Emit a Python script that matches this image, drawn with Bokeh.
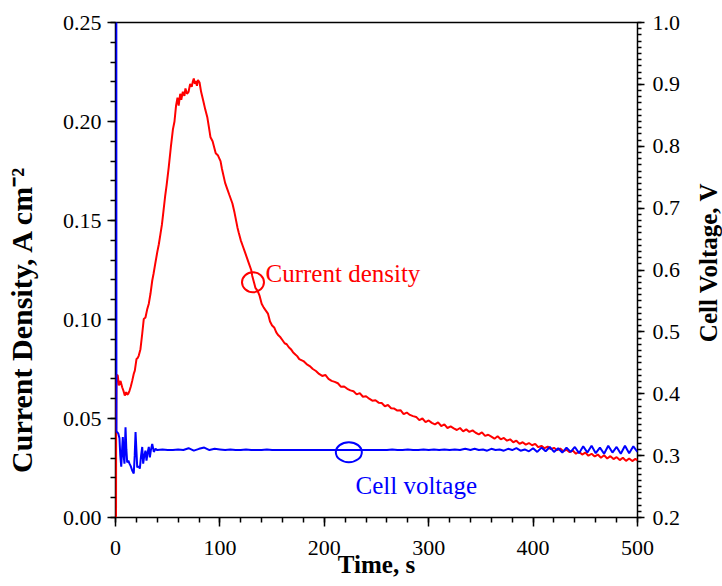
import math
import numpy as np
from bokeh.plotting import figure
from bokeh.layouts import row
from bokeh.models import Range1d, LinearAxis, FixedTicker, NumeralTickFormatter, Label
from bokeh.core.properties import value
from bokeh.embed import file_html
from bokeh.resources import INLINE

# ---------------- data: current density (A cm^-2) vs time (s) ----------------
t_j_rise = [0.5, 0.6, 0.9, 2.2, 3.2, 4.8, 6.4, 7.6, 8.9, 10.2, 11.2, 12.2, 13.4, 14.6, 16.0,
            17.5, 18.5, 20.1, 21.2, 22.3, 23.9, 25.6, 27.1, 28.7, 30.3, 31.9, 33.5, 35.2, 36.4,
            38.0, 40.0, 41.5, 43.0, 44.5, 46.0, 47.5, 49.0, 51.0, 53.0, 55.0, 56.5, 58.0, 59.4,
            60.5, 62.0, 63.0, 64.5, 66.0, 67.0, 68.5, 70.0, 71.5, 73.0, 74.0, 75.0, 76.0, 77.0,
            78.0, 79.0, 80.5]
j_rise = [0.0, 0.040, 0.072, 0.0717, 0.0667, 0.0690, 0.0658, 0.0640, 0.0616, 0.0633, 0.0620,
          0.0625, 0.0640, 0.0660, 0.0690, 0.0726, 0.0742, 0.0800, 0.0805, 0.0818, 0.0850, 0.0928,
          0.1003, 0.1010, 0.1050, 0.1080, 0.1130, 0.1197, 0.1230, 0.1280, 0.1340, 0.1380, 0.1430,
          0.1480, 0.1550, 0.1620, 0.1680, 0.1770, 0.1870, 0.1960, 0.2000, 0.2080, 0.2120, 0.2080,
          0.2140, 0.2110, 0.2150, 0.2130, 0.2167, 0.2140, 0.2150, 0.2190, 0.2175, 0.2200, 0.2217,
          0.2190, 0.2205, 0.2180, 0.2210, 0.2197]

t_j_fall = [82, 84, 86, 88, 89.5, 91, 93, 95, 96, 98, 100.6, 102, 105, 107, 109, 112, 114, 116.8,
            118, 120, 122, 124, 126, 128, 130, 131, 133, 134, 136, 138, 140, 142, 144, 146, 148,
            150, 152, 154, 156, 158, 160, 162, 164, 166, 168, 170, 172, 174, 176, 178, 180, 183,
            186, 189, 192, 195, 198]
j_fall = [0.2150, 0.2106, 0.2060, 0.2020, 0.1970, 0.1920, 0.1900, 0.1860, 0.1840, 0.1830, 0.1800,
          0.1760, 0.1690, 0.1660, 0.1630, 0.1586, 0.1540, 0.1465, 0.1440, 0.1400, 0.1370, 0.1340,
          0.1310, 0.1280, 0.1250, 0.1220, 0.1180, 0.1160, 0.1146, 0.1120, 0.1080, 0.1060, 0.1045,
          0.1030, 0.0990, 0.0970, 0.0960, 0.0935, 0.0920, 0.0910, 0.0895, 0.0880, 0.0875, 0.0860,
          0.0850, 0.0835, 0.0825, 0.0815, 0.0800, 0.0795, 0.0790, 0.0775, 0.0765, 0.0750, 0.0740,
          0.0725, 0.0715]

t_j_tail = [201, 204, 207, 210, 213, 216, 219, 222, 225, 228, 231, 234, 237, 240, 243, 246, 249,
            252, 255, 258, 261, 264, 267, 270, 273, 276, 279, 282, 285, 288, 291, 294, 297, 300,
            303, 306, 309, 312, 315, 318, 321, 324, 327, 330, 333, 336, 339, 342, 345, 348, 351,
            354, 357, 360, 363, 366, 369, 372, 375, 378, 381, 384, 387, 390, 393, 396, 399, 402,
            405, 408, 411, 414, 417, 420, 423, 426, 429, 432, 435, 438, 441, 444, 447, 450, 453,
            456, 459, 462, 465, 468, 471, 474, 477, 480, 483, 486, 489, 492, 495, 498, 500]
j_tail = [0.0720, 0.0700, 0.0690, 0.0685, 0.0678, 0.0660, 0.0662, 0.0650, 0.0642, 0.0638, 0.0622,
          0.0628, 0.0610, 0.0612, 0.0600, 0.0590, 0.0592, 0.0580, 0.0578, 0.0562, 0.0568, 0.0552,
          0.0550, 0.0540, 0.0542, 0.0522, 0.0530, 0.0518, 0.0512, 0.0508, 0.0492, 0.0500, 0.0482,
          0.0490, 0.0478, 0.0470, 0.0480, 0.0462, 0.0470, 0.0452, 0.0460, 0.0450, 0.0442, 0.0452,
          0.0435, 0.0445, 0.0432, 0.0440, 0.0428, 0.0420, 0.0430, 0.0412, 0.0418, 0.0408, 0.0398,
          0.0410, 0.0395, 0.0402, 0.0388, 0.0395, 0.0380, 0.0388, 0.0372, 0.0380, 0.0368, 0.0376,
          0.0365, 0.0372, 0.0355, 0.0362, 0.0350, 0.0358, 0.0345, 0.0352, 0.0340, 0.0348, 0.0335,
          0.0342, 0.0330, 0.0338, 0.0322, 0.0332, 0.0318, 0.0328, 0.0312, 0.0322, 0.0308, 0.0318,
          0.0302, 0.0314, 0.0298, 0.0310, 0.0295, 0.0305, 0.0290, 0.0302, 0.0286, 0.0298, 0.0285,
          0.0296, 0.0288]

# ---------------- data: cell voltage (V) vs time (s) ----------------
t_v_start = [0.8, 0.9, 1.6, 2.6, 3.8, 4.6, 5.5, 6.3, 7.0, 7.8, 8.6, 9.1, 9.6, 10.4, 11.2, 12.3,
             13.4, 14.6, 16.0, 17.5, 18.4, 19.2, 20.0, 20.8, 22.0, 23.3, 24.5, 25.6, 26.5, 27.6,
             28.7, 29.7, 30.8, 31.9, 32.9, 34.0, 35.2, 36.7, 38.3]
v_start = [1.05, 0.338, 0.338, 0.336, 0.328, 0.300, 0.282, 0.310, 0.330, 0.300, 0.287, 0.320,
           0.346, 0.310, 0.289, 0.292, 0.287, 0.283, 0.276, 0.271, 0.300, 0.338, 0.310, 0.281,
           0.283, 0.279, 0.300, 0.314, 0.287, 0.300, 0.308, 0.292, 0.305, 0.314, 0.297, 0.310,
           0.319, 0.306, 0.311]

t_v_mid = [40, 45, 50, 55, 60, 65, 70, 75, 80, 85, 90, 95, 100, 105, 110, 115, 120, 125, 130,
           135, 140, 145, 150, 155, 160, 165, 170, 175, 180, 185, 190, 195, 200, 205, 210, 215,
           220, 225, 230, 235, 240, 245, 250, 255, 260, 265, 270, 275, 280, 285, 290, 295, 300,
           305, 310, 315, 320, 325, 330, 335, 340]
v_mid = [0.309, 0.310, 0.309, 0.309, 0.310, 0.309, 0.312, 0.308, 0.311, 0.313, 0.309, 0.311,
         0.310, 0.309, 0.310, 0.309, 0.309, 0.310, 0.309, 0.309, 0.309, 0.310, 0.309, 0.309,
         0.309, 0.309, 0.309, 0.309, 0.309, 0.309, 0.309, 0.309, 0.309, 0.309, 0.309, 0.309,
         0.309, 0.309, 0.309, 0.309, 0.309, 0.309, 0.309, 0.309, 0.309, 0.310, 0.309, 0.309,
         0.310, 0.309, 0.309, 0.310, 0.309, 0.310, 0.309, 0.310, 0.309, 0.310, 0.309, 0.311,
         0.309]

t_v_tail = [344, 348, 352, 356, 360, 364, 368, 372, 376, 380, 384, 388, 392, 396, 400, 404, 408,
            412, 416, 420, 424, 428, 432, 436, 440, 444, 448, 452, 456, 460, 464, 468, 472, 476,
            480, 484, 488, 492, 496, 500]
v_tail = [0.311, 0.309, 0.310, 0.308, 0.311, 0.309, 0.310, 0.308, 0.311, 0.309, 0.312, 0.308,
          0.310, 0.307, 0.312, 0.306, 0.313, 0.307, 0.314, 0.306, 0.312, 0.305, 0.313, 0.306,
          0.314, 0.304, 0.315, 0.305, 0.316, 0.304, 0.313, 0.303, 0.316, 0.305, 0.314, 0.303,
          0.316, 0.304, 0.315, 0.306]

# ---------------- axes ticks ----------------
x_major = [0, 100, 200, 300, 400, 500]
j_major = [0.00, 0.05, 0.10, 0.15, 0.20, 0.25]
v_major = [0.2, 0.3, 0.4, 0.5, 0.6, 0.7, 0.8, 0.9, 1.0]

# annotation anchors (time, value)
cd_marker_t, cd_marker_j = [131.7], [0.1188]
cd_text_t, cd_text_j = 143.7, 0.1232
cv_marker_t, cv_marker_v = [223.5], [0.3056]
cv_text_t, cv_text_v = 229.9, 0.2517

t_j = t_j_rise + t_j_fall + t_j_tail
j = j_rise + j_fall + j_tail
t_v = t_v_start + t_v_mid + t_v_tail
v = v_start + v_mid + v_tail

RED = "#ff0000"
BLUE = "#0000ff"
SERIF = "Liberation Serif"
NBSP = "\u00a0"

p = figure(width=695, height=586, output_backend="svg", toolbar_location=None,
           x_range=Range1d(0, 500), y_range=Range1d(0, 0.25),
           x_axis_location=None, y_axis_location=None,
           min_border_left=115, min_border_right=58, min_border_top=22, min_border_bottom=69)
p.extra_y_ranges = {"v": Range1d(0.2, 1.0)}
p.background_fill_color = "white"
p.border_fill_color = "white"
p.outline_line_color = "black"
p.outline_line_width = 1.5
p.grid.visible = False

x_minor = [float(x) for x in np.arange(0, 501, 20)]
j_minor = [round(float(x), 3) for x in np.arange(0, 0.2501, 0.01)]
v_minor = [round(float(x), 3) for x in np.arange(0.2, 1.0001, 0.01)]

xaxis = LinearAxis(ticker=FixedTicker(ticks=x_major, minor_ticks=x_minor))
yaxis = LinearAxis(ticker=FixedTicker(ticks=j_major, minor_ticks=j_minor),
                   formatter=NumeralTickFormatter(format="0.00"))
raxis = LinearAxis(y_range_name="v", ticker=FixedTicker(ticks=v_major, minor_ticks=v_minor),
                   formatter=NumeralTickFormatter(format="0.0"))

for ax in (xaxis, yaxis, raxis):
    ax.axis_line_color = None          # the frame outline (drawn beneath the curves) is the axis line
    ax.major_tick_line_width = 1.5
    ax.minor_tick_line_width = 1.5
    ax.major_tick_in = 0
    ax.minor_tick_in = 0
    ax.major_label_text_font = SERIF
    ax.major_label_text_font_size = "22px"
    ax.major_label_text_color = "black"
    ax.axis_label_text_font = SERIF
    ax.axis_label_text_font_style = "bold"
    ax.axis_label_text_color = "black"

xaxis.major_tick_out = 9
xaxis.minor_tick_out = 5
xaxis.major_label_standoff = 14
xaxis.axis_label = "Time, s"
xaxis.axis_label_text_font_size = "25px"
xaxis.axis_label_standoff = -7

yaxis.major_tick_out = 8
yaxis.minor_tick_out = 5
yaxis.major_label_standoff = 6
# trailing no-break spaces move the centred title down to where the reference has it
yaxis.axis_label = "Current Density, A cm\u207b\u00b2" + NBSP * 13
yaxis.axis_label_text_font_size = "30px"
yaxis.axis_label_standoff = 22

raxis.major_tick_out = 7
raxis.minor_tick_out = 4
raxis.major_label_standoff = 8

p.add_layout(xaxis, "below")
p.add_layout(yaxis, "left")
p.add_layout(raxis, "right")

p.line(t_j, j, line_color=RED, line_width=2)
p.line(t_v, v, line_color=BLUE, line_width=2, y_range_name="v")

p.ellipse(cd_marker_t, cd_marker_j, width=22, height=20, width_units="screen",
          height_units="screen", fill_color=None, line_color=RED, line_width=2)
p.ellipse(cv_marker_t, cv_marker_v, width=26, height=20, width_units="screen",
          height_units="screen", fill_color=None, line_color=BLUE, line_width=2,
          y_range_name="v")

p.add_layout(Label(x=cd_text_t, y=cd_text_j, text="Current density", text_color=RED,
                   text_font=SERIF, text_font_size="25px", text_align="left",
                   text_baseline="alphabetic"))
p.add_layout(Label(x=cv_text_t, y=cv_text_v, y_range_name="v", text="Cell voltage",
                   text_color=BLUE, text_font=SERIF, text_font_size="25px",
                   text_align="left", text_baseline="alphabetic"))

# ---- narrow strip to the right holding the right-hand axis title (reads bottom-to-top) ----
strip_w, strip_h = 27, 586
right_title = ["Cell Voltage, V"]
title_x, title_y = [13.0], [302.0]     # strip pixel units, y measured upward from the bottom
t2 = figure(width=strip_w, height=strip_h, output_backend="svg", toolbar_location=None,
            x_range=Range1d(0, strip_w), y_range=Range1d(0, strip_h),
            x_axis_location=None, y_axis_location=None,
            min_border_left=0, min_border_right=0, min_border_top=0, min_border_bottom=0)
t2.outline_line_color = None
t2.background_fill_color = "white"
t2.border_fill_color = "white"
t2.grid.visible = False
t2.text(x=title_x, y=title_y, text=right_title, angle=math.pi / 2,
        text_align="center", text_baseline="middle", text_color="black",
        text_font=value(SERIF), text_font_style="bold", text_font_size="25px")

layout = row(p, t2, spacing=0)
open("out.html", "w").write(file_html(layout, INLINE))
